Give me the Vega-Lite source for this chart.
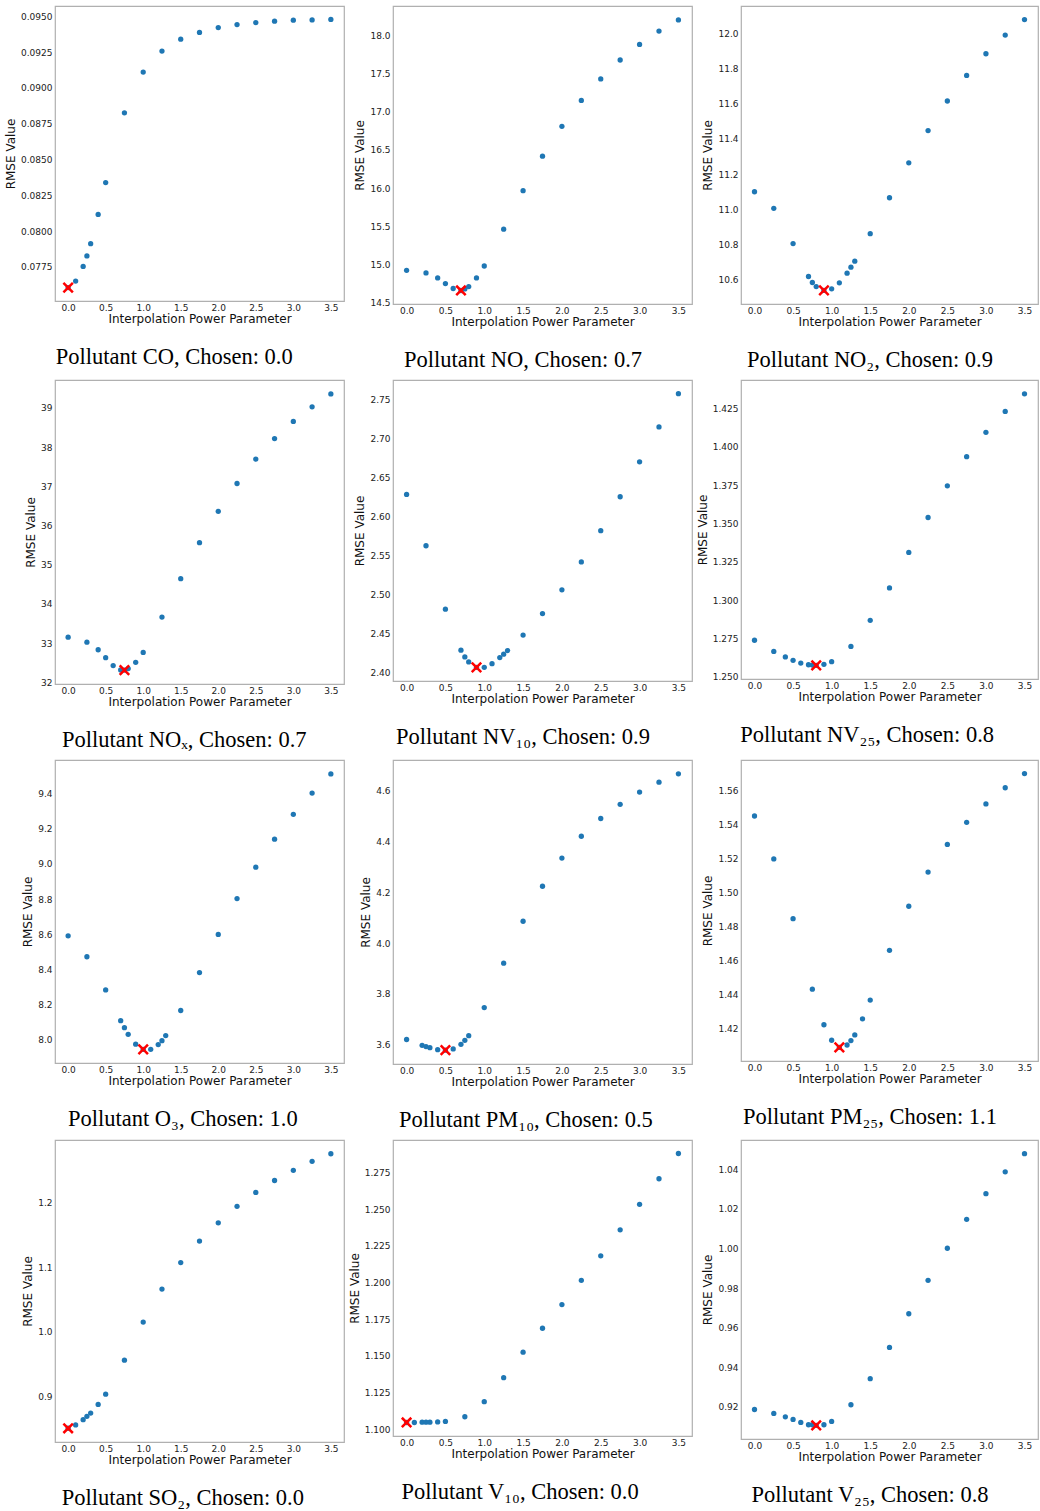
{
  "$schema": "https://vega.github.io/schema/vega-lite/v6.json",
  "padding": {"top": 5, "left": 3, "right": 0, "bottom": 0},
  "background": "white",
  "columns": 3,
  "spacing": {"row": 6, "column": 2},
  "config": {
    "view": {"stroke": "#b0b0b0", "strokeWidth": 1.2},
    "axis": {"labelFont": "DejaVu Sans", "labelFontSize": 9, "labelColor": "#222", "titleFont": "DejaVu Sans", "titleFontSize": 12, "titleFontWeight": "normal", "titleColor": "#111", "grid": false, "domain": false, "ticks": false, "labelPadding": 3, "titlePadding": 3},
    "axisX": {"labelAngle": 0, "labelPadding": 2, "titlePadding": 1},
    "title": {"orient": "bottom", "frame": "bounds", "anchor": "middle", "font": "Liberation Serif", "fontSize": 22.5, "fontWeight": "normal", "color": "#000", "offset": 22}
  },
  "datasets": {
    "co": [{"p":0,"rmse":0.07605,"chosen":true},{"p":0.1,"rmse":0.0765},{"p":0.2,"rmse":0.07753},{"p":0.25,"rmse":0.07826},{"p":0.3,"rmse":0.07912},{"p":0.4,"rmse":0.08116},{"p":0.5,"rmse":0.08339},{"p":0.75,"rmse":0.08826},{"p":1.0,"rmse":0.09111},{"p":1.25,"rmse":0.09258},{"p":1.5,"rmse":0.09341},{"p":1.75,"rmse":0.09388},{"p":2.0,"rmse":0.09422},{"p":2.25,"rmse":0.09443},{"p":2.5,"rmse":0.09457},{"p":2.75,"rmse":0.09467},{"p":3.0,"rmse":0.09474},{"p":3.25,"rmse":0.09476},{"p":3.5,"rmse":0.09479}],
    "no": [{"p":0,"rmse":14.922},{"p":0.25,"rmse":14.887},{"p":0.4,"rmse":14.822},{"p":0.5,"rmse":14.748},{"p":0.6,"rmse":14.683},{"p":0.7,"rmse":14.657,"chosen":true},{"p":0.75,"rmse":14.678},{"p":0.8,"rmse":14.709},{"p":0.9,"rmse":14.822},{"p":1.0,"rmse":14.978},{"p":1.25,"rmse":15.461},{"p":1.5,"rmse":15.965},{"p":1.75,"rmse":16.417},{"p":2.0,"rmse":16.809},{"p":2.25,"rmse":17.148},{"p":2.5,"rmse":17.43},{"p":2.75,"rmse":17.678},{"p":3.0,"rmse":17.883},{"p":3.25,"rmse":18.057},{"p":3.5,"rmse":18.204}],
    "no2": [{"p":0,"rmse":11.1},{"p":0.25,"rmse":11.006},{"p":0.5,"rmse":10.806},{"p":0.7,"rmse":10.619},{"p":0.75,"rmse":10.585},{"p":0.8,"rmse":10.562},{"p":0.9,"rmse":10.54,"chosen":true},{"p":1.0,"rmse":10.549},{"p":1.1,"rmse":10.583},{"p":1.2,"rmse":10.638},{"p":1.25,"rmse":10.672},{"p":1.3,"rmse":10.706},{"p":1.5,"rmse":10.862},{"p":1.75,"rmse":11.066},{"p":2.0,"rmse":11.264},{"p":2.25,"rmse":11.447},{"p":2.5,"rmse":11.615},{"p":2.75,"rmse":11.76},{"p":3.0,"rmse":11.883},{"p":3.25,"rmse":11.989},{"p":3.5,"rmse":12.077}],
    "nox": [{"p":0,"rmse":33.153},{"p":0.25,"rmse":33.027},{"p":0.4,"rmse":32.833},{"p":0.5,"rmse":32.631},{"p":0.6,"rmse":32.429},{"p":0.7,"rmse":32.319},{"p":0.75,"rmse":32.315,"chosen":true},{"p":0.8,"rmse":32.353},{"p":0.9,"rmse":32.513},{"p":1.0,"rmse":32.766},{"p":1.25,"rmse":33.667},{"p":1.5,"rmse":34.644},{"p":1.75,"rmse":35.563},{"p":2.0,"rmse":36.363},{"p":2.25,"rmse":37.071},{"p":2.5,"rmse":37.694},{"p":2.75,"rmse":38.217},{"p":3.0,"rmse":38.655},{"p":3.25,"rmse":39.025},{"p":3.5,"rmse":39.354}],
    "nv10": [{"p":0,"rmse":2.6283},{"p":0.25,"rmse":2.5626},{"p":0.5,"rmse":2.4813},{"p":0.7,"rmse":2.4288},{"p":0.75,"rmse":2.4202},{"p":0.8,"rmse":2.4138},{"p":0.9,"rmse":2.4069,"chosen":true},{"p":1.0,"rmse":2.4069},{"p":1.1,"rmse":2.4116},{"p":1.2,"rmse":2.4194},{"p":1.25,"rmse":2.4237},{"p":1.3,"rmse":2.4284},{"p":1.5,"rmse":2.4482},{"p":1.75,"rmse":2.4757},{"p":2.0,"rmse":2.5062},{"p":2.25,"rmse":2.5419},{"p":2.5,"rmse":2.5819},{"p":2.75,"rmse":2.6253},{"p":3.0,"rmse":2.67},{"p":3.25,"rmse":2.7147},{"p":3.5,"rmse":2.7573}],
    "nv25": [{"p":0,"rmse":1.2737},{"p":0.25,"rmse":1.2664},{"p":0.4,"rmse":1.2628},{"p":0.5,"rmse":1.2606},{"p":0.6,"rmse":1.2588},{"p":0.7,"rmse":1.2577},{"p":0.75,"rmse":1.2575},{"p":0.8,"rmse":1.2573,"chosen":true},{"p":0.9,"rmse":1.258},{"p":1.0,"rmse":1.2597},{"p":1.25,"rmse":1.2697},{"p":1.5,"rmse":1.2867},{"p":1.75,"rmse":1.3079},{"p":2.0,"rmse":1.3311},{"p":2.25,"rmse":1.3539},{"p":2.5,"rmse":1.3746},{"p":2.75,"rmse":1.3936},{"p":3.0,"rmse":1.4095},{"p":3.25,"rmse":1.4232},{"p":3.5,"rmse":1.4347}],
    "o3": [{"p":0,"rmse":8.591},{"p":0.25,"rmse":8.472},{"p":0.5,"rmse":8.283},{"p":0.7,"rmse":8.108},{"p":0.75,"rmse":8.068},{"p":0.8,"rmse":8.03},{"p":0.9,"rmse":7.974},{"p":1.0,"rmse":7.945,"chosen":true},{"p":1.1,"rmse":7.945},{"p":1.2,"rmse":7.972},{"p":1.25,"rmse":7.994},{"p":1.3,"rmse":8.023},{"p":1.5,"rmse":8.166},{"p":1.75,"rmse":8.382},{"p":2.0,"rmse":8.599},{"p":2.25,"rmse":8.803},{"p":2.5,"rmse":8.982},{"p":2.75,"rmse":9.141},{"p":3.0,"rmse":9.283},{"p":3.25,"rmse":9.404},{"p":3.5,"rmse":9.513}],
    "pm10": [{"p":0,"rmse":3.62},{"p":0.2,"rmse":3.597},{"p":0.25,"rmse":3.592},{"p":0.3,"rmse":3.588},{"p":0.4,"rmse":3.58},{"p":0.5,"rmse":3.578,"chosen":true},{"p":0.6,"rmse":3.583},{"p":0.7,"rmse":3.601},{"p":0.75,"rmse":3.617},{"p":0.8,"rmse":3.635},{"p":1.0,"rmse":3.746},{"p":1.25,"rmse":3.921},{"p":1.5,"rmse":4.086},{"p":1.75,"rmse":4.224},{"p":2.0,"rmse":4.335},{"p":2.25,"rmse":4.421},{"p":2.5,"rmse":4.491},{"p":2.75,"rmse":4.547},{"p":3.0,"rmse":4.595},{"p":3.25,"rmse":4.634},{"p":3.5,"rmse":4.667}],
    "pm25": [{"p":0,"rmse":1.5448},{"p":0.25,"rmse":1.5196},{"p":0.5,"rmse":1.4845},{"p":0.75,"rmse":1.4431},{"p":0.9,"rmse":1.4222},{"p":1.0,"rmse":1.4131},{"p":1.1,"rmse":1.4089,"chosen":true},{"p":1.2,"rmse":1.4103},{"p":1.25,"rmse":1.4129},{"p":1.3,"rmse":1.4162},{"p":1.4,"rmse":1.4257},{"p":1.5,"rmse":1.4367},{"p":1.75,"rmse":1.4659},{"p":2.0,"rmse":1.4918},{"p":2.25,"rmse":1.5119},{"p":2.5,"rmse":1.5281},{"p":2.75,"rmse":1.5411},{"p":3.0,"rmse":1.5519},{"p":3.25,"rmse":1.5614},{"p":3.5,"rmse":1.5697}],
    "so2": [{"p":0,"rmse":0.8515,"chosen":true},{"p":0.1,"rmse":0.8566},{"p":0.2,"rmse":0.8648},{"p":0.25,"rmse":0.8699},{"p":0.3,"rmse":0.875},{"p":0.4,"rmse":0.8883},{"p":0.5,"rmse":0.9041},{"p":0.75,"rmse":0.9566},{"p":1.0,"rmse":1.0153},{"p":1.25,"rmse":1.0663},{"p":1.5,"rmse":1.1071},{"p":1.75,"rmse":1.1403},{"p":2.0,"rmse":1.1684},{"p":2.25,"rmse":1.1939},{"p":2.5,"rmse":1.2153},{"p":2.75,"rmse":1.2337},{"p":3.0,"rmse":1.2495},{"p":3.25,"rmse":1.2633},{"p":3.5,"rmse":1.275}],
    "v10": [{"p":0,"rmse":1.1046,"chosen":true},{"p":0.1,"rmse":1.1046},{"p":0.2,"rmse":1.1048},{"p":0.25,"rmse":1.1048},{"p":0.3,"rmse":1.1048},{"p":0.4,"rmse":1.105},{"p":0.5,"rmse":1.1053},{"p":0.75,"rmse":1.1085},{"p":1.0,"rmse":1.1188},{"p":1.25,"rmse":1.1351},{"p":1.5,"rmse":1.1525},{"p":1.75,"rmse":1.1688},{"p":2.0,"rmse":1.1849},{"p":2.25,"rmse":1.2014},{"p":2.5,"rmse":1.2181},{"p":2.75,"rmse":1.2358},{"p":3.0,"rmse":1.2532},{"p":3.25,"rmse":1.2706},{"p":3.5,"rmse":1.2878}],
    "v25": [{"p":0,"rmse":0.9186},{"p":0.25,"rmse":0.9166},{"p":0.4,"rmse":0.9149},{"p":0.5,"rmse":0.9136},{"p":0.6,"rmse":0.9121},{"p":0.7,"rmse":0.9109},{"p":0.75,"rmse":0.9109},{"p":0.8,"rmse":0.9106,"chosen":true},{"p":0.9,"rmse":0.9109},{"p":1.0,"rmse":0.9126},{"p":1.25,"rmse":0.921},{"p":1.5,"rmse":0.9342},{"p":1.75,"rmse":0.95},{"p":2.0,"rmse":0.967},{"p":2.25,"rmse":0.9839},{"p":2.5,"rmse":1.0001},{"p":2.75,"rmse":1.0147},{"p":3.0,"rmse":1.0277},{"p":3.25,"rmse":1.0387},{"p":3.5,"rmse":1.0479}]
  },
  "concat": [
    {"width": 289, "height": 295, "title": "Pollutant CO, Chosen: 0.0", "data": {"name": "co"},
     "encoding": {"x": {"field": "p", "type": "quantitative", "scale": {"domain": [-0.175, 3.675], "nice": false}, "axis": {"title": "Interpolation Power Parameter", "values": [0,0.5,1,1.5,2,2.5,3,3.5], "format": ".1f"}},
                  "y": {"field": "rmse", "type": "quantitative", "scale": {"domain": [0.07511, 0.09573], "nice": false, "zero": false}, "axis": {"title": "RMSE Value", "values": [0.0775,0.08,0.0825,0.085,0.0875,0.09,0.0925,0.095], "format": ".4f"}}},
     "layer": [
       {"mark": {"type": "point", "filled": true, "size": 28, "color": "#1f77b4", "opacity": 1}},
       {"transform": [{"filter": "datum.chosen"}], "mark": {"type": "point", "shape": "M-1,-1L1,1M-1,1L1,-1", "filled": false, "size": 90, "stroke": "#ff0000", "strokeWidth": 2.5, "opacity": 1}}
     ]},
    {"width": 299, "height": 298, "title": "Pollutant NO, Chosen: 0.7", "data": {"name": "no"},
     "encoding": {"x": {"field": "p", "type": "quantitative", "scale": {"domain": [-0.175, 3.675], "nice": false}, "axis": {"title": "Interpolation Power Parameter", "values": [0,0.5,1,1.5,2,2.5,3,3.5], "format": ".1f"}},
                  "y": {"field": "rmse", "type": "quantitative", "scale": {"domain": [14.48, 18.386], "nice": false, "zero": false}, "axis": {"title": "RMSE Value", "values": [14.5,15,15.5,16,16.5,17,17.5,18], "format": ".1f"}}},
     "layer": [
       {"mark": {"type": "point", "filled": true, "size": 28, "color": "#1f77b4", "opacity": 1}},
       {"transform": [{"filter": "datum.chosen"}], "mark": {"type": "point", "shape": "M-1,-1L1,1M-1,1L1,-1", "filled": false, "size": 90, "stroke": "#ff0000", "strokeWidth": 2.5, "opacity": 1}}
     ]},
    {"width": 297, "height": 298, "title": "Pollutant NO₂, Chosen: 0.9", "data": {"name": "no2"},
     "encoding": {"x": {"field": "p", "type": "quantitative", "scale": {"domain": [-0.175, 3.675], "nice": false}, "axis": {"title": "Interpolation Power Parameter", "values": [0,0.5,1,1.5,2,2.5,3,3.5], "format": ".1f"}},
                  "y": {"field": "rmse", "type": "quantitative", "scale": {"domain": [10.463, 12.154], "nice": false, "zero": false}, "axis": {"title": "RMSE Value", "values": [10.6,10.8,11,11.2,11.4,11.6,11.8,12], "format": ".1f"}}},
     "layer": [
       {"mark": {"type": "point", "filled": true, "size": 28, "color": "#1f77b4", "opacity": 1}},
       {"transform": [{"filter": "datum.chosen"}], "mark": {"type": "point", "shape": "M-1,-1L1,1M-1,1L1,-1", "filled": false, "size": 90, "stroke": "#ff0000", "strokeWidth": 2.5, "opacity": 1}}
     ]},
    {"width": 289, "height": 304, "title": "Pollutant NOₓ, Chosen: 0.7", "data": {"name": "nox"},
     "encoding": {"x": {"field": "p", "type": "quantitative", "scale": {"domain": [-0.175, 3.675], "nice": false}, "axis": {"title": "Interpolation Power Parameter", "values": [0,0.5,1,1.5,2,2.5,3,3.5], "format": ".1f"}},
                  "y": {"field": "rmse", "type": "quantitative", "scale": {"domain": [31.96, 39.71], "nice": false, "zero": false}, "axis": {"title": "RMSE Value", "values": [32,33,34,35,36,37,38,39], "format": "d"}}},
     "layer": [
       {"mark": {"type": "point", "filled": true, "size": 28, "color": "#1f77b4", "opacity": 1}},
       {"transform": [{"filter": "datum.chosen"}], "mark": {"type": "point", "shape": "M-1,-1L1,1M-1,1L1,-1", "filled": false, "size": 90, "stroke": "#ff0000", "strokeWidth": 2.5, "opacity": 1}}
     ]},
    {"width": 299, "height": 301, "title": "Pollutant NV₁₀, Chosen: 0.9", "data": {"name": "nv10"},
     "encoding": {"x": {"field": "p", "type": "quantitative", "scale": {"domain": [-0.175, 3.675], "nice": false}, "axis": {"title": "Interpolation Power Parameter", "values": [0,0.5,1,1.5,2,2.5,3,3.5], "format": ".1f"}},
                  "y": {"field": "rmse", "type": "quantitative", "scale": {"domain": [2.3894, 2.7748], "nice": false, "zero": false}, "axis": {"title": "RMSE Value", "values": [2.4,2.45,2.5,2.55,2.6,2.65,2.7,2.75], "format": ".2f"}}},
     "layer": [
       {"mark": {"type": "point", "filled": true, "size": 28, "color": "#1f77b4", "opacity": 1}},
       {"transform": [{"filter": "datum.chosen"}], "mark": {"type": "point", "shape": "M-1,-1L1,1M-1,1L1,-1", "filled": false, "size": 90, "stroke": "#ff0000", "strokeWidth": 2.5, "opacity": 1}}
     ]},
    {"width": 297, "height": 299, "title": "Pollutant NV₂₅, Chosen: 0.8", "data": {"name": "nv25"},
     "encoding": {"x": {"field": "p", "type": "quantitative", "scale": {"domain": [-0.175, 3.675], "nice": false}, "axis": {"title": "Interpolation Power Parameter", "values": [0,0.5,1,1.5,2,2.5,3,3.5], "format": ".1f"}},
                  "y": {"field": "rmse", "type": "quantitative", "scale": {"domain": [1.2484, 1.4437], "nice": false, "zero": false}, "axis": {"title": "RMSE Value", "values": [1.25,1.275,1.3,1.325,1.35,1.375,1.4,1.425], "format": ".3f"}}},
     "layer": [
       {"mark": {"type": "point", "filled": true, "size": 28, "color": "#1f77b4", "opacity": 1}},
       {"transform": [{"filter": "datum.chosen"}], "mark": {"type": "point", "shape": "M-1,-1L1,1M-1,1L1,-1", "filled": false, "size": 90, "stroke": "#ff0000", "strokeWidth": 2.5, "opacity": 1}}
     ]},
    {"width": 289, "height": 303, "title": "Pollutant O₃, Chosen: 1.0", "data": {"name": "o3"},
     "encoding": {"x": {"field": "p", "type": "quantitative", "scale": {"domain": [-0.175, 3.675], "nice": false}, "axis": {"title": "Interpolation Power Parameter", "values": [0,0.5,1,1.5,2,2.5,3,3.5], "format": ".1f"}},
                  "y": {"field": "rmse", "type": "quantitative", "scale": {"domain": [7.867, 9.592], "nice": false, "zero": false}, "axis": {"title": "RMSE Value", "values": [8,8.2,8.4,8.6,8.8,9,9.2,9.4], "format": ".1f"}}},
     "layer": [
       {"mark": {"type": "point", "filled": true, "size": 28, "color": "#1f77b4", "opacity": 1}},
       {"transform": [{"filter": "datum.chosen"}], "mark": {"type": "point", "shape": "M-1,-1L1,1M-1,1L1,-1", "filled": false, "size": 90, "stroke": "#ff0000", "strokeWidth": 2.5, "opacity": 1}}
     ]},
    {"width": 299, "height": 304, "title": "Pollutant PM₁₀, Chosen: 0.5", "data": {"name": "pm10"},
     "encoding": {"x": {"field": "p", "type": "quantitative", "scale": {"domain": [-0.175, 3.675], "nice": false}, "axis": {"title": "Interpolation Power Parameter", "values": [0,0.5,1,1.5,2,2.5,3,3.5], "format": ".1f"}},
                  "y": {"field": "rmse", "type": "quantitative", "scale": {"domain": [3.5235, 4.7215], "nice": false, "zero": false}, "axis": {"title": "RMSE Value", "values": [3.6,3.8,4,4.2,4.4,4.6], "format": ".1f"}}},
     "layer": [
       {"mark": {"type": "point", "filled": true, "size": 28, "color": "#1f77b4", "opacity": 1}},
       {"transform": [{"filter": "datum.chosen"}], "mark": {"type": "point", "shape": "M-1,-1L1,1M-1,1L1,-1", "filled": false, "size": 90, "stroke": "#ff0000", "strokeWidth": 2.5, "opacity": 1}}
     ]},
    {"width": 297, "height": 301, "title": "Pollutant PM₂₅, Chosen: 1.1", "data": {"name": "pm25"},
     "encoding": {"x": {"field": "p", "type": "quantitative", "scale": {"domain": [-0.175, 3.675], "nice": false}, "axis": {"title": "Interpolation Power Parameter", "values": [0,0.5,1,1.5,2,2.5,3,3.5], "format": ".1f"}},
                  "y": {"field": "rmse", "type": "quantitative", "scale": {"domain": [1.4009, 1.5777], "nice": false, "zero": false}, "axis": {"title": "RMSE Value", "values": [1.42,1.44,1.46,1.48,1.5,1.52,1.54,1.56], "format": ".2f"}}},
     "layer": [
       {"mark": {"type": "point", "filled": true, "size": 28, "color": "#1f77b4", "opacity": 1}},
       {"transform": [{"filter": "datum.chosen"}], "mark": {"type": "point", "shape": "M-1,-1L1,1M-1,1L1,-1", "filled": false, "size": 90, "stroke": "#ff0000", "strokeWidth": 2.5, "opacity": 1}}
     ]},
    {"width": 289, "height": 302, "title": "Pollutant SO₂, Chosen: 0.0", "data": {"name": "so2"},
     "encoding": {"x": {"field": "p", "type": "quantitative", "scale": {"domain": [-0.175, 3.675], "nice": false}, "axis": {"title": "Interpolation Power Parameter", "values": [0,0.5,1,1.5,2,2.5,3,3.5], "format": ".1f"}},
                  "y": {"field": "rmse", "type": "quantitative", "scale": {"domain": [0.8303, 1.2962], "nice": false, "zero": false}, "axis": {"title": "RMSE Value", "values": [0.9,1,1.1,1.2], "format": ".1f"}}},
     "layer": [
       {"mark": {"type": "point", "filled": true, "size": 28, "color": "#1f77b4", "opacity": 1}},
       {"transform": [{"filter": "datum.chosen"}], "mark": {"type": "point", "shape": "M-1,-1L1,1M-1,1L1,-1", "filled": false, "size": 90, "stroke": "#ff0000", "strokeWidth": 2.5, "opacity": 1}}
     ]},
    {"width": 299, "height": 296, "title": "Pollutant V₁₀, Chosen: 0.0", "data": {"name": "v10"},
     "encoding": {"x": {"field": "p", "type": "quantitative", "scale": {"domain": [-0.175, 3.675], "nice": false}, "axis": {"title": "Interpolation Power Parameter", "values": [0,0.5,1,1.5,2,2.5,3,3.5], "format": ".1f"}},
                  "y": {"field": "rmse", "type": "quantitative", "scale": {"domain": [1.0954, 1.297], "nice": false, "zero": false}, "axis": {"title": "RMSE Value", "values": [1.1,1.125,1.15,1.175,1.2,1.225,1.25,1.275], "format": ".3f"}}},
     "layer": [
       {"mark": {"type": "point", "filled": true, "size": 28, "color": "#1f77b4", "opacity": 1}},
       {"transform": [{"filter": "datum.chosen"}], "mark": {"type": "point", "shape": "M-1,-1L1,1M-1,1L1,-1", "filled": false, "size": 90, "stroke": "#ff0000", "strokeWidth": 2.5, "opacity": 1}}
     ]},
    {"width": 297, "height": 299, "title": "Pollutant V₂₅, Chosen: 0.8", "data": {"name": "v25"},
     "encoding": {"x": {"field": "p", "type": "quantitative", "scale": {"domain": [-0.175, 3.675], "nice": false}, "axis": {"title": "Interpolation Power Parameter", "values": [0,0.5,1,1.5,2,2.5,3,3.5], "format": ".1f"}},
                  "y": {"field": "rmse", "type": "quantitative", "scale": {"domain": [0.9037, 1.0548], "nice": false, "zero": false}, "axis": {"title": "RMSE Value", "values": [0.92,0.94,0.96,0.98,1,1.02,1.04], "format": ".2f"}}},
     "layer": [
       {"mark": {"type": "point", "filled": true, "size": 28, "color": "#1f77b4", "opacity": 1}},
       {"transform": [{"filter": "datum.chosen"}], "mark": {"type": "point", "shape": "M-1,-1L1,1M-1,1L1,-1", "filled": false, "size": 90, "stroke": "#ff0000", "strokeWidth": 2.5, "opacity": 1}}
     ]}
  ]
}
